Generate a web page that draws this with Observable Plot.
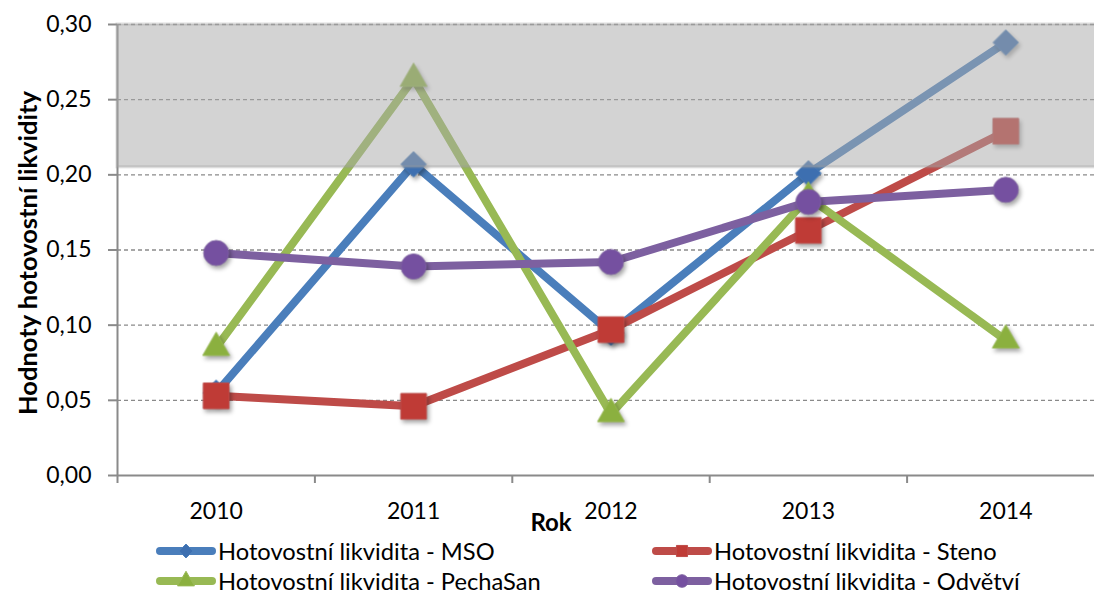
<!DOCTYPE html>
<html>
<head>
<meta charset="utf-8">
<script src="https://cdn.jsdelivr.net/npm/d3@7"></script>
<script src="https://cdn.jsdelivr.net/npm/@observablehq/plot@0.6"></script>
<style>
  html, body { margin: 0; padding: 0; background: #fff; overflow: hidden; }
  #wrap { position: relative; width: 1094px; height: 596px; font-family: Lato, "Open Sans", sans-serif; }
  #legend { position: absolute; left: 0; top: 538px; width: 1094px; }
  .item { position: absolute; display: flex; align-items: center; font-size: 23.7px; color: #000; white-space: nowrap; line-height: 26px; }
  .item svg { display: block; margin-right: 1px; }
  g[aria-label="dot"] { filter: drop-shadow(2px 3px 2px rgba(0,0,0,0.35)); }
</style>
</head>
<body>
<div id="wrap"><div id="chart"></div><div id="legend"></div></div>
<script>
// ---- data ----
const years = [2010, 2011, 2012, 2013, 2014];
const msoValues = [0.055, 0.207, 0.095, 0.201, 0.288];
const stenoValues = [0.053, 0.046, 0.097, 0.163, 0.229];
const pechaSanValues = [0.085, 0.264, 0.041, 0.185, 0.090];
const odvetviValues = [0.148, 0.139, 0.142, 0.182, 0.190];
const seriesNames = [
  "Hotovostní likvidita - MSO",
  "Hotovostní likvidita - Steno",
  "Hotovostní likvidita - PechaSan",
  "Hotovostní likvidita - Odvětví"
];
const yTicks = [0, 0.05, 0.10, 0.15, 0.20, 0.25, 0.30];
const bandRange = [0.205, 0.30];
const yTitle = "Hodnoty hotovostní likvidity";
const xTitle = "Rok";

// ---- styles ----
const seriesStyle = [
  {values: msoValues, line: "#4a7ebb", fill: "#3d6fb0", symbol: "diamond2", r: 11.5},
  {values: stenoValues, line: "#be4b48", fill: "#bf3b36", symbol: "square", r: 14.5},
  {values: pechaSanValues, line: "#98b954", fill: "#8bb03f", symbol: "triangle", r: 10},
  {values: odvetviValues, line: "#7d60a0", fill: "#7550a0", symbol: "circle", r: 12.5}
];

const rows = s => years.map((y, i) => ({year: y, value: s.values[i]}));
const bounds = years.map(y => y - 0.5).concat([years[years.length - 1] + 0.5]);
const fmt = d => d.toFixed(2).replace(".", ",");

const marks = [
  Plot.ruleY(yTicks.filter(d => d > 0), {stroke: "#8a8a8a", strokeWidth: 1.4, strokeDasharray: "4,3"}),
  Plot.ruleX([bounds[0]], {y1: 0, y2: yTicks[yTicks.length - 1], stroke: "#8a8a8a", strokeWidth: 2}),
  Plot.ruleY([0], {stroke: "#8a8a8a", strokeWidth: 2}),
  Plot.axisY({ticks: yTicks, tickFormat: fmt, tickSize: 9, tickPadding: 17, fontSize: 23, stroke: "#8a8a8a", strokeWidth: 2, label: null}),
  Plot.axisX({ticks: bounds, tickFormat: () => "", tickSize: 8, stroke: "#8a8a8a", strokeWidth: 2, label: null}),
  Plot.axisX({ticks: years, tickFormat: d => String(d), tickSize: 0, tickPadding: 27, fontSize: 23, label: null})
];

for (const s of seriesStyle) {
  const data = rows(s);
  marks.push(Plot.line(data, {x: "year", y: "value", stroke: s.line, strokeWidth: 8, strokeLinejoin: "round", strokeLinecap: "round"}));
  marks.push(Plot.dot(data, {x: "year", y: "value", symbol: () => s.symbol, r: s.r, fill: s.fill, stroke: s.line, strokeWidth: 1}));
}

marks.push(Plot.rect([{x1: bounds[0], x2: bounds[bounds.length - 1], y1: bandRange[0], y2: bandRange[1]}],
  {x1: "x1", x2: "x2", y1: "y1", y2: "y2", fill: "#a8a8a8", fillOpacity: 0.51, stroke: "#9a9a9a", strokeOpacity: 0.35, strokeWidth: 3}));

marks.push(Plot.text([yTitle], {frameAnchor: "left", textAnchor: "middle", rotate: -90, dx: -89, dy: 3, fontWeight: "bold", fontSize: 25.5}));
marks.push(Plot.text([xTitle], {frameAnchor: "bottom", textAnchor: "middle", dx: -55, dy: 55, fontWeight: "bold", fontSize: 24}));

const chart = Plot.plot({
  width: 1094,
  height: 533,
  marginTop: 24,
  marginBottom: 58,
  marginLeft: 117,
  marginRight: 0,
  style: {fontFamily: "Lato, 'Open Sans', sans-serif", color: "#000", background: "#fff", overflow: "visible"},
  x: {type: "linear", domain: [bounds[0], bounds[bounds.length - 1]], range: [117, 1104]},
  y: {domain: [0, 0.30]},
  symbol: {type: "identity"},
  marks
});
document.getElementById("chart").appendChild(chart);

// ---- legend ----
const legend = document.getElementById("legend");
const positions = [[155, 0], [651, 0], [155, 30], [651, 30]];
const symbolMap = {diamond2: d3.symbolDiamond2, square: d3.symbolSquare, triangle: d3.symbolTriangle, circle: d3.symbolCircle};
seriesStyle.forEach((s, i) => {
  const div = document.createElement("div");
  div.className = "item";
  div.style.left = positions[i][0] + "px";
  div.style.top = positions[i][1] + "px";
  const path = d3.symbol(symbolMap[s.symbol], Math.PI * 5.5 * 5.5 * 1.3)();
  div.innerHTML = `<svg width="62" height="22"><line x1="5" y1="11" x2="57" y2="11" stroke="${s.line}" stroke-width="8" stroke-linecap="round"/><path d="${path}" transform="translate(31,11)" fill="${s.fill}" stroke="${s.line}"/></svg><span>${seriesNames[i]}</span>`;
  legend.appendChild(div);
});
</script>
</body>
</html>
